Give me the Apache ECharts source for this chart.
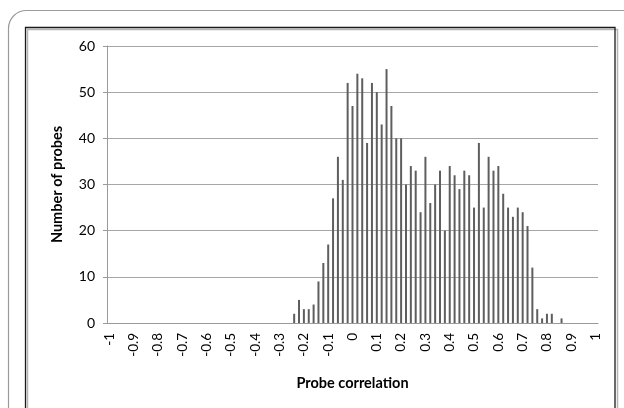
<!DOCTYPE html>
<html>
<head>
<meta charset="utf-8">
<script src="https://cdn.jsdelivr.net/npm/echarts@6/dist/echarts.min.js"></script>
<style>
  html, body { margin: 0; padding: 0; background: #fff; }
  #chart { width: 624px; height: 408px; }
</style>
</head>
<body>
<div id="chart"></div>
<script>
// bins of 0.02 from -1 to 1 (101 categories)
let bins = [];
for (let i = 0; i <= 100; i++) {
  bins.push((-1 + i * 0.02).toFixed(2));
}

// labels shown every 5th bin
const tickLabels = ["-1", "-0.9", "-0.8", "-0.7", "-0.6", "-0.5", "-0.4", "-0.3", "-0.2", "-0.1",
  "0", "0.1", "0.2", "0.3", "0.4", "0.5", "0.6", "0.7", "0.8", "0.9", "1"];

const probeCounts = [
  0, 0, 0, 0, 0, 0, 0, 0, 0, 0,
  0, 0, 0, 0, 0, 0, 0, 0, 0, 0,
  0, 0, 0, 0, 0, 0, 0, 0, 0, 0,
  0, 0, 0, 0, 0, 0, 0, 0, 2, 5,
  3, 3, 4, 9, 13, 17, 27, 36, 31, 52,
  47, 54, 53, 39, 52, 50, 43, 55, 47, 40,
  40, 30, 34, 33, 24, 36, 26, 30, 33, 20,
  34, 32, 29, 33, 32, 25, 39, 25, 36, 33,
  34, 28, 25, 23, 25, 24, 21, 12, 3, 1,
  2, 2, 0, 1, 0, 0, 0, 0, 0, 0,
  0
];

const yTicks = [0, 10, 20, 30, 40, 50, 60];

let chartDom = document.getElementById("chart");
let myChart = echarts.init(chartDom);

let option = {
  backgroundColor: "#fff",
  animation: false,
  textStyle: {
    fontFamily: "Lato, 'Open Sans', sans-serif"
  },
  grid: {
    left: 107,
    right: 26,
    top: 46,
    bottom: 85
  },
  graphic: [
    {
      type: "rect",
      shape: { x: 8.5, y: 10.5, width: 700, height: 500, r: 18 },
      style: { fill: "none", stroke: "#9a9a9a", lineWidth: 1.2 },
      silent: true
    },
    {
      type: "rect",
      shape: { x: 27.5, y: 29.5, width: 590, height: 500 },
      style: { fill: "none", stroke: "#b5b5b5", lineWidth: 1.5 },
      silent: true
    },
    {
      type: "rect",
      shape: { x: 25.5, y: 27.5, width: 589.5, height: 500 },
      style: { fill: "none", stroke: "#1a1a1a", lineWidth: 1.3 },
      silent: true
    }
  ],
  xAxis: {
    type: "category",
    data: bins,
    name: "Probe correlation",
    nameLocation: "middle",
    nameGap: 53,
    nameTextStyle: {
      fontWeight: "bold",
      fontSize: 14.5,
      color: "#000"
    },
    axisLine: { lineStyle: { color: "#9a9a9a" } },
    axisTick: { show: false },
    axisLabel: {
      interval: 4,
      rotate: 90,
      margin: 10,
      fontSize: 13.5,
      color: "#000",
      formatter: function(v, idx) {
        return tickLabels[idx / 5];
      }
    }
  },
  yAxis: {
    type: "value",
    min: 0,
    max: 60,
    interval: 10,
    name: "Number of probes",
    nameLocation: "middle",
    nameGap: 42,
    nameTextStyle: {
      fontWeight: "bold",
      fontSize: 14.5,
      color: "#000"
    },
    axisLine: { show: true, lineStyle: { color: "#9a9a9a" } },
    axisTick: { show: true, inside: false, length: 4, lineStyle: { color: "#9a9a9a" } },
    axisLabel: {
      margin: 12,
      fontSize: 14,
      color: "#000",
      formatter: function(v) {
        return yTicks.indexOf(v) >= 0 ? String(v) : "";
      }
    },
    splitLine: { lineStyle: { color: "#a6a6a6", width: 1 } }
  },
  series: [
    {
      name: "Probes",
      type: "bar",
      data: probeCounts,
      barWidth: 2,
      itemStyle: { color: "#5e5e5e" }
    }
  ]
};

myChart.setOption(option);
</script>
</body>
</html>
